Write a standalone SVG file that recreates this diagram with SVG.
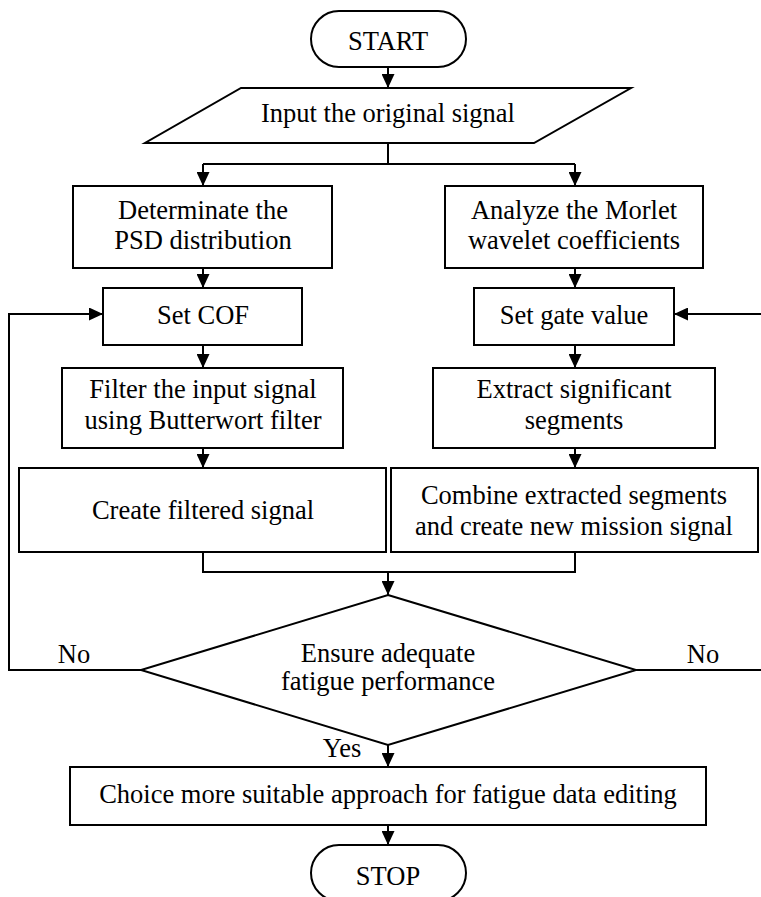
<svg xmlns="http://www.w3.org/2000/svg" width="761" height="897" viewBox="0 0 761 897">
<defs>
<marker id="arr" markerUnits="userSpaceOnUse" markerWidth="14" markerHeight="13" refX="14" refY="6.5" orient="auto">
<path d="M0,0 L14,6.5 L0,13 z" fill="#000"/>
</marker>
<style>
.s{fill:#fff;stroke:#000;stroke-width:2}
.c{fill:none;stroke:#000;stroke-width:2}
.a{fill:none;stroke:#000;stroke-width:2;marker-end:url(#arr)}
text{font-family:"Liberation Serif","Times New Roman",serif;font-size:26.5px;fill:#000;text-anchor:middle}
</style>
</defs>
<rect width="761" height="897" fill="#fff"/>
<g id="connectors">
<path class="a" d="M388,67 V88"/>
<path class="c" d="M388,143 V164 M203,164 H575"/>
<path class="a" d="M203,164 V186"/>
<path class="a" d="M575,164 V186"/>
<path class="a" d="M203,268 V288"/>
<path class="a" d="M575,268 V288"/>
<path class="a" d="M203,345 V368"/>
<path class="a" d="M575,345 V368"/>
<path class="a" d="M203,448 V468"/>
<path class="a" d="M575,448 V468"/>
<path class="c" d="M203,552 V572 H575 V552"/>
<path class="a" d="M388,572 V595"/>
<path class="a" d="M141,670 H9 V314 H103"/>
<path class="a" d="M636,670 H762 V314 H674"/>
<path class="a" d="M388,745 V767"/>
<path class="a" d="M388,825 V845"/>
<text x="74" y="663">No</text>
<text x="703" y="663">No</text>
<text x="342" y="757">Yes</text>
</g>
<g id="start"><rect class="s" x="311" y="11" width="155" height="56" rx="28"/><text x="388" y="50">START</text></g>
<g id="input"><path class="s" d="M241,88 H631 L534,143 H145 Z"/><text x="388" y="122">Input the original signal</text></g>
<g id="psd"><rect class="s" x="73" y="186" width="259" height="82"/><text x="203" y="219">Determinate the</text><text x="203" y="249">PSD distribution</text></g>
<g id="morlet"><rect class="s" x="445" y="186" width="258" height="82"/><text x="574" y="219">Analyze the Morlet</text><text x="574" y="249">wavelet coefficients</text></g>
<g id="cof"><rect class="s" x="103" y="288" width="199" height="57"/><text x="203" y="324">Set COF</text></g>
<g id="gate"><rect class="s" x="474" y="288" width="200" height="57"/><text x="574" y="324">Set gate value</text></g>
<g id="filter"><rect class="s" x="62" y="368" width="281" height="80"/><text x="203" y="398">Filter the input signal</text><text x="203" y="429">using Butterwort filter</text></g>
<g id="extract"><rect class="s" x="433" y="368" width="282" height="80"/><text x="574" y="398">Extract significant</text><text x="574" y="429">segments</text></g>
<g id="filtered"><rect class="s" x="19" y="468" width="367" height="84"/><text x="203" y="519">Create filtered signal</text></g>
<g id="combine"><rect class="s" x="391" y="468" width="367" height="84"/><text x="574" y="504">Combine extracted segments</text><text x="574" y="535">and create new mission signal</text></g>
<g id="decision"><path class="s" d="M388,595 L636,670 L388,745 L141,670 Z"/><text x="388" y="662">Ensure adequate</text><text x="388" y="690">fatigue performance</text></g>
<g id="choice"><rect class="s" x="70" y="767" width="636" height="58"/><text x="388" y="803">Choice more suitable approach for fatigue data editing</text></g>
<g id="stop"><rect class="s" x="311" y="845" width="155" height="56" rx="28"/><text x="388" y="885">STOP</text></g>
</svg>
